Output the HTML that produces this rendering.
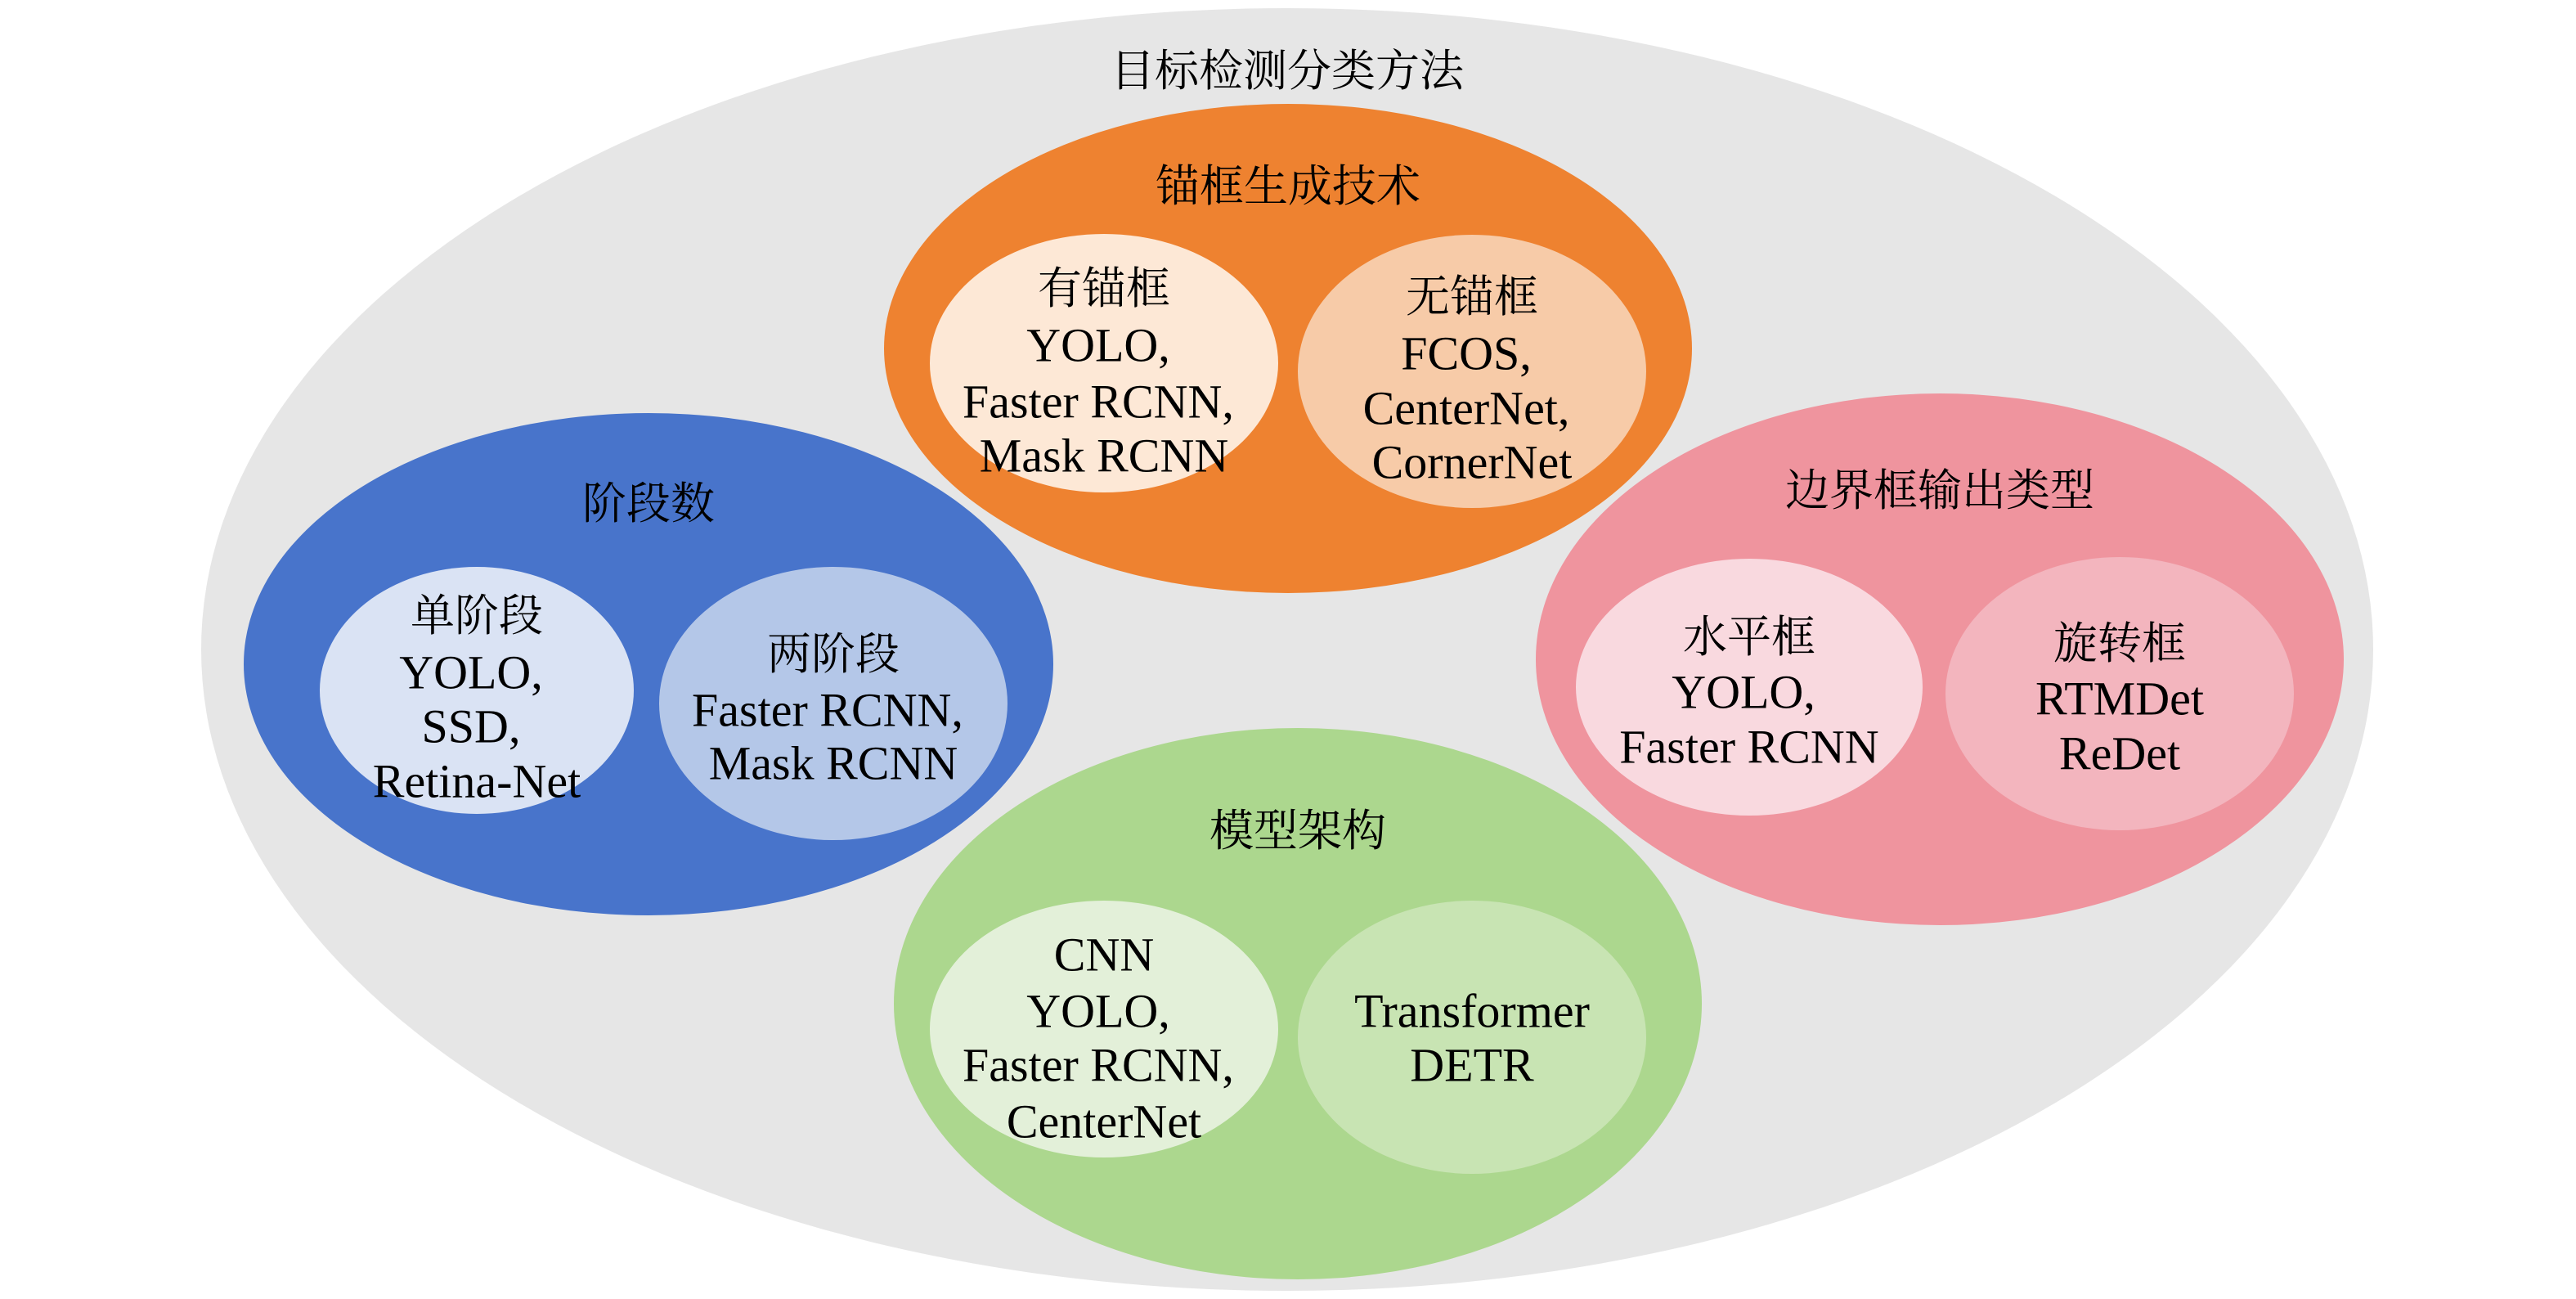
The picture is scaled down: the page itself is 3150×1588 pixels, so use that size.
<!DOCTYPE html>
<html><head><meta charset="utf-8"><style>
html,body{margin:0;padding:0;background:#fff}
svg{display:block}
text{font-family:"Liberation Serif","Noto Serif CJK SC","Noto Sans CJK SC",serif;font-size:58px;fill:#000;text-anchor:middle;dominant-baseline:central}
.c{font-size:54px}
</style></head><body>
<svg width="3150" height="1588" viewBox="0 0 3150 1588" xmlns="http://www.w3.org/2000/svg">
<ellipse cx="1574" cy="794" rx="1328" ry="784" fill="#e6e6e6"/>
<text class="c" x="1574" y="87">目标检测分类方法</text>

<ellipse cx="1575" cy="426" rx="494" ry="299" fill="#ee8230"/>
<ellipse cx="1350" cy="444" rx="213" ry="158" fill="#fde8d6"/>
<ellipse cx="1800" cy="454" rx="213" ry="167" fill="#f7cba8"/>
<text class="c" x="1575" y="228">锚框生成技术</text>
<text class="c" x="1350" y="353">有锚框</text>
<text x="1343" y="422">YOLO,</text>
<text x="1343" y="491">Faster RCNN,</text>
<text x="1350" y="557">Mask RCNN</text>
<text class="c" x="1800" y="363">无锚框</text>
<text x="1793" y="432">FCOS,</text>
<text x="1793" y="499">CenterNet,</text>
<text x="1800" y="565">CornerNet</text>

<ellipse cx="793" cy="812" rx="495" ry="307" fill="#4874cb"/>
<ellipse cx="583" cy="844" rx="192" ry="151" fill="#dae3f4"/>
<ellipse cx="1019" cy="860" rx="213" ry="167" fill="#b4c7e8"/>
<text class="c" x="793" y="616">阶段数</text>
<text class="c" x="583" y="753">单阶段</text>
<text x="576" y="822">YOLO,</text>
<text x="576" y="888">SSD,</text>
<text x="583" y="955">Retina-Net</text>
<text class="c" x="1019" y="800">两阶段</text>
<text x="1012" y="868">Faster RCNN,</text>
<text x="1019" y="933">Mask RCNN</text>

<ellipse cx="2372" cy="806" rx="494" ry="325" fill="#ef949e"/>
<ellipse cx="2139" cy="840" rx="212" ry="157" fill="#f9d9df"/>
<ellipse cx="2592" cy="848" rx="213" ry="167" fill="#f3b5be"/>
<text class="c" x="2372" y="600">边界框输出类型</text>
<text class="c" x="2139" y="779">水平框</text>
<text x="2132" y="846">YOLO,</text>
<text x="2139" y="913">Faster RCNN</text>
<text class="c" x="2592" y="787">旋转框</text>
<text x="2592" y="854">RTMDet</text>
<text x="2592" y="921">ReDet</text>

<ellipse cx="1587" cy="1227" rx="494" ry="337" fill="#acd78e"/>
<ellipse cx="1350" cy="1258" rx="213" ry="157" fill="#e3f0d9"/>
<ellipse cx="1800" cy="1268" rx="213" ry="167" fill="#c8e4b3"/>
<text class="c" x="1587" y="1016">模型架构</text>
<text x="1350" y="1167">CNN</text>
<text x="1343" y="1236">YOLO,</text>
<text x="1343" y="1302">Faster RCNN,</text>
<text x="1350" y="1371">CenterNet</text>
<text x="1800" y="1236">Transformer</text>
<text x="1800" y="1302">DETR</text>
</svg>
</body></html>
